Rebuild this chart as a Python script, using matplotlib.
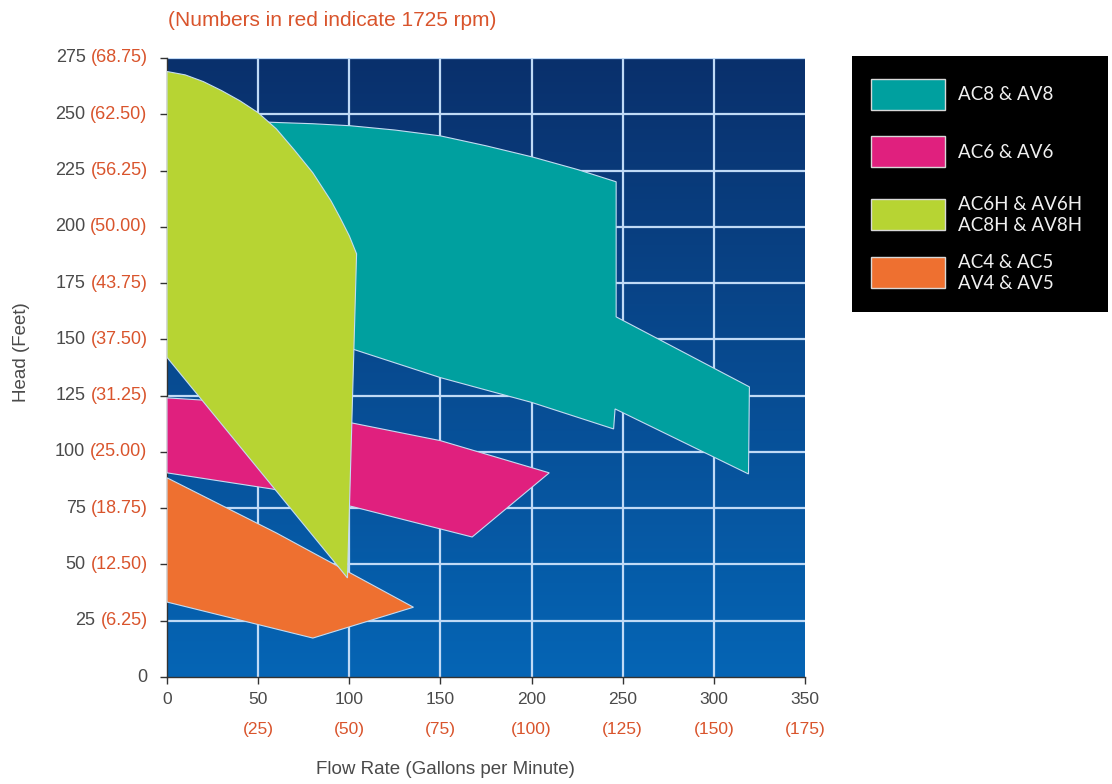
import numpy as np
import matplotlib

matplotlib.use('Agg')
import matplotlib.pyplot as plt
from matplotlib.colors import LinearSegmentedColormap
from matplotlib.patches import Rectangle
from matplotlib.transforms import offset_copy

plt.rcParams['font.family'] = ['Liberation Sans', 'DejaVu Sans']

# axis ticks, 3450 rpm values with the 1725 rpm values in red
flow_ticks = [0, 50, 100, 150, 200, 250, 300, 350]
flow_1725 = ['', '(25)', '(50)', '(75)', '(100)', '(125)', '(150)', '(175)']
head_ticks = [0, 25, 50, 75, 100, 125, 150, 175, 200, 225, 250, 275]
head_1725 = ['', '(6.25)', '(12.50)', '(18.75)', '(25.00)', '(31.25)',
             '(37.50)', '(43.75)', '(50.00)', '(56.25)', '(62.50)', '(68.75)']

# pump operating ranges, outline as (gpm, feet)
ac8_gpm = [55, 80, 100.6, 125, 150, 175, 200.6, 225, 246.4, 246.4, 319.5, 319,
           245.8, 245, 200, 150, 103.3, 95]
ac8_head = [246.5, 245.8, 244.9, 243, 240.4, 236, 231, 225.5, 220, 160, 128.9, 90.2,
            119.1, 110.2, 122, 133, 145.3, 148]

ac6_gpm = [0, 20, 100.6, 150, 209.7, 167.4, 102.2, 57.8, 0]
ac6_head = [124, 123, 113, 105, 90.7, 62.2, 75.6, 83.5, 90.7]

ac4_gpm = [0, 60, 135.2, 80, 0]
ac4_head = [88.5, 64, 31, 17.3, 33.3]

ac6h_gpm = [0, 10, 20, 30, 40, 50, 60, 70, 80, 90, 95, 100, 104, 99, 0]
ac6h_head = [269, 267.5, 264.5, 260.5, 256, 250.7, 243.5, 234, 224, 211.5, 204, 196, 188,
             44, 142]

series = [
    ('AC8 & AV8', ac8_gpm, ac8_head, '#00a09f'),
    ('AC6 & AV6', ac6_gpm, ac6_head, '#e0207e'),
    ('AC4 & AC5\nAV4 & AV5', ac4_gpm, ac4_head, '#ee7030'),
    ('AC6H & AV6H\nAC8H & AV8H', ac6h_gpm, ac6h_head, '#b7d433'),
]
legend_order = [0, 1, 3, 2]

gray = '#4a4a4a'
red = '#d9542c'

fig = plt.figure(figsize=(11.12, 7.84), dpi=100)
ax = fig.add_axes((167 / 1112, 1 - 677 / 784, (805 - 167) / 1112, (677 - 58) / 784))
ax.set_xlim(0, 350)
ax.set_ylim(0, 275)

# background gradient, dark navy at top to brighter blue at bottom
cmap = LinearSegmentedColormap.from_list('bg', ['#0565b5', '#0a306c'])
grad = np.linspace(0, 1, 256).reshape(-1, 1)
ax.imshow(grad, extent=(0, 350, 0, 275), origin='lower', aspect='auto', cmap=cmap, zorder=0)

for x in flow_ticks[1:-1]:
    ax.axvline(x, color='#c0daf6', lw=1.6, zorder=1)
for y in head_ticks[1:]:
    ax.axhline(y, color='#c0daf6', lw=1.6, zorder=1)

for i, (name, gpm, head, col) in enumerate(series):
    ax.fill(gpm, head, facecolor=col, edgecolor='#c4dcf2', lw=0.8, zorder=2 + i)

ax.set_xticks(flow_ticks)
ax.set_yticks(head_ticks)
ax.set_xticklabels([])
ax.set_yticklabels([])
ax.tick_params(length=5, width=1, color='#333333', direction='out')
for s in ['top', 'right']:
    ax.spines[s].set_visible(False)
for s in ['left', 'bottom']:
    ax.spines[s].set_color('#333333')
    ax.spines[s].set_linewidth(1)

# y tick labels: red 1725 rpm value next to the gray number
renderer = fig.canvas.get_renderer()
ytr = offset_copy(ax.get_yaxis_transform(), fig=fig, x=-14, y=0, units='points')
for h, r in zip(head_ticks, head_1725):
    shift = 0
    if r:
        t = ax.text(0, h, r, transform=ytr, ha='right', va='center', fontsize=13, color=red)
        shift = t.get_window_extent(renderer).width * 72 / fig.dpi + 3.6
    gtr = offset_copy(ax.get_yaxis_transform(), fig=fig, x=-14 - shift, y=0, units='points')
    ax.text(0, h, str(h), transform=gtr, ha='right', va='center', fontsize=13, color=gray)

# x tick labels in two rows
xtr1 = offset_copy(ax.get_xaxis_transform(), fig=fig, x=0, y=-16, units='points')
xtr2 = offset_copy(ax.get_xaxis_transform(), fig=fig, x=0, y=-38, units='points')
for f, r in zip(flow_ticks, flow_1725):
    ax.text(f, 0, str(f), transform=xtr1, ha='center', va='center', fontsize=12.5, color=gray)
    if r:
        ax.text(f, 0, r, transform=xtr2, ha='center', va='center', fontsize=12.5, color=red)

fig.text(168 / 1112, 1 - 20 / 784, '(Numbers in red indicate 1725 rpm)', color=red,
         fontsize=15, ha='left', va='center')
fig.text(22 / 1112, 1 - 352 / 784, 'Head (Feet)', color=gray, fontsize=13.5,
         rotation=90, ha='center', va='center')
fig.text(445 / 1112, 1 - 770 / 784, 'Flow Rate (Gallons per Minute)', color=gray,
         fontsize=13.5, ha='center', va='center')

# legend box
fig.patches.append(Rectangle((852 / 1112, 1 - 312 / 784), 256 / 1112, 256 / 784,
                             transform=fig.transFigure, facecolor='black', edgecolor='none'))
sw_top = [79, 136, 199, 257]
for k, top in zip(legend_order, sw_top):
    name, col = series[k][0], series[k][3]
    fig.patches.append(Rectangle((871 / 1112, 1 - (top + 31) / 784), 74 / 1112, 31 / 784,
                                 transform=fig.transFigure, facecolor=col,
                                 edgecolor='#d8d8d8', lw=1))
    fig.text(958 / 1112, 1 - (top + 16) / 784, name, color='#f0f0f0', fontsize=13.5,
             family=['Lato', 'DejaVu Sans'], ha='left', va='center', linespacing=1.3)

plt.savefig('out.png', dpi=100)
